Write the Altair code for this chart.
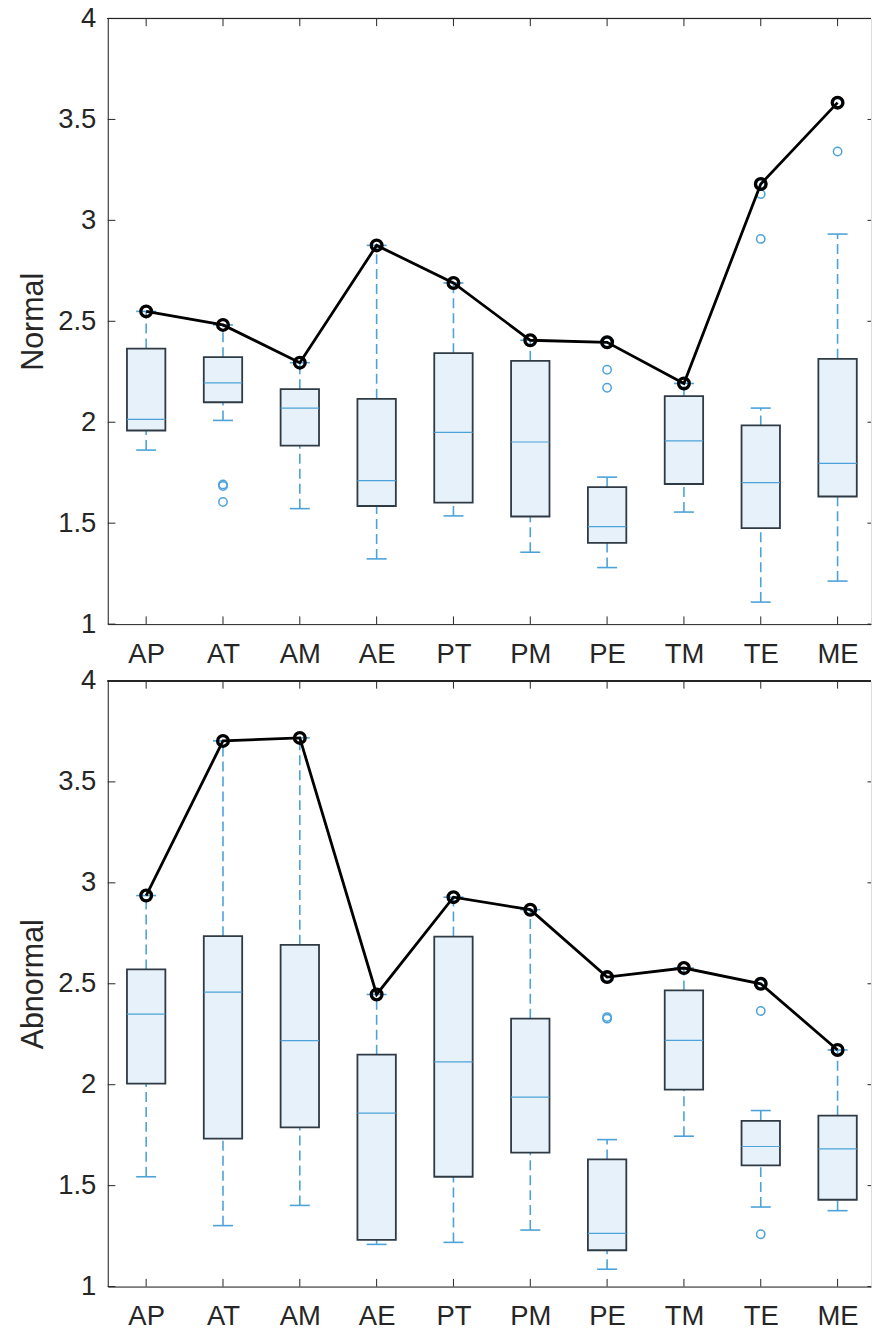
import altair as alt
import pandas as pd

categories = ["AP", "AT", "AM", "AE", "PT", "PM", "PE", "TM", "TE", "ME"]

# Normal group: box statistics, whisker ends, maxima and outliers
normal_q1 = [1.959, 2.099, 1.884, 1.585, 1.602, 1.533, 1.402, 1.694, 1.475, 1.632]
normal_median = [2.014, 2.195, 2.070, 1.711, 1.950, 1.902, 1.483, 1.908, 1.701, 1.796]
normal_q3 = [2.365, 2.322, 2.164, 2.116, 2.342, 2.304, 1.679, 2.129, 1.984, 2.314]
normal_whisker_low = [1.862, 2.009, 1.572, 1.323, 1.536, 1.356, 1.280, 1.555, 1.109, 1.213]
normal_whisker_high = [2.549, 2.482, 2.295, 2.876, 2.690, 2.406, 1.728, 2.192, 2.070, 2.932]
normal_max = [2.549, 2.482, 2.295, 2.876, 2.690, 2.406, 2.396, 2.192, 3.180, 3.583]
normal_outlier_cat = ["AT", "AT", "AT", "PE", "PE", "PE", "TE", "TE", "TE", "ME", "ME"]
normal_outlier_val = [1.692, 1.684, 1.605, 2.260, 2.171, 2.396, 3.130, 2.908, 3.180, 3.341, 3.583]

# Abnormal group
abnormal_q1 = [2.005, 1.733, 1.789, 1.231, 1.544, 1.664, 1.180, 1.976, 1.600, 1.430]
abnormal_median = [2.350, 2.459, 2.218, 1.859, 2.113, 1.938, 1.264, 2.220, 1.694, 1.682]
abnormal_q3 = [2.571, 2.736, 2.693, 2.149, 2.734, 2.327, 1.630, 2.467, 1.821, 1.847]
abnormal_whisker_low = [1.544, 1.302, 1.402, 1.209, 1.219, 1.280, 1.086, 1.745, 1.394, 1.376]
abnormal_whisker_high = [2.937, 3.703, 3.718, 2.447, 2.929, 2.867, 1.728, 2.578, 1.872, 2.172]
abnormal_max = [2.937, 3.703, 3.718, 2.447, 2.929, 2.867, 2.533, 2.578, 2.500, 2.172]
abnormal_outlier_cat = ["PE", "PE", "PE", "TE", "TE", "TE"]
abnormal_outlier_val = [2.335, 2.327, 2.533, 2.365, 2.500, 1.259]

y_ticks = [1, 1.5, 2, 2.5, 3, 3.5, 4]

# Styling
W, H = 765, 607
STEP = 77.0
X_MAX = 0.5 + W / STEP
FONT = "Liberation Sans"
TEXT = "#262626"
BOX_FILL = "#E6F1FA"
BOX_EDGE = "#2E3A44"
BLUE = "#4DA3D9"
TICK_LEN = 7.7

label_expr = "[" + ",".join("'%s'" % c for c in categories) + "][datum.value - 1]"


def x_enc(field):
    return alt.X(
        field,
        type="quantitative",
        scale=alt.Scale(domain=[0.5, X_MAX], nice=False, zero=False),
        axis=alt.Axis(
            values=list(range(1, 11)), labelExpr=label_expr, ticks=False, grid=False,
            domainColor=TEXT, domainWidth=1, labelFont=FONT, labelFontSize=27.5,
            labelColor=TEXT, labelPadding=16, title=None,
        ),
    )


def y_axis(title):
    return alt.Axis(
        values=y_ticks, format="~g", ticks=False, grid=False, domainColor=TEXT,
        domainWidth=1, labelFont=FONT, labelFontSize=27.5, labelColor=TEXT,
        labelPadding=12, title=title, titleFont=FONT, titleFontSize=30.5,
        titleFontWeight="normal", titleColor=TEXT, titleAngle=270,
        titleBaseline="top", titleAlign="center", titleX=-89, titleY=H / 2,
    )


def panel(title, q1, med, q3, lo, hi, mx, ocat, oval, anchor):
    def y_enc(field):
        return alt.Y(field, type="quantitative",
                     scale=alt.Scale(domain=[1, 4], nice=False, zero=False),
                     axis=y_axis(title))

    stats = pd.DataFrame({
        "cat": categories, "pos": list(range(1, len(categories) + 1)),
        "q1": q1, "median": med, "q3": q3, "lo": lo, "hi": hi, "max": mx,
    })
    pos_of = dict(zip(categories, stats["pos"]))
    outliers = pd.DataFrame({"pos": [pos_of[c] for c in ocat], "val": oval})
    xt = pd.DataFrame({"pos": list(range(1, len(categories) + 1))})
    yt = pd.DataFrame({"v": y_ticks})

    base = alt.Chart(stats).transform_calculate(
        x0="datum.pos - 0.25", x1="datum.pos + 0.25",
        c0="datum.pos - 0.13", c1="datum.pos + 0.13",
    )

    whisker_lo = base.mark_rule(color=BLUE, strokeWidth=1.6, strokeDash=[10, 5]).encode(
        x=x_enc("pos"), y=y_enc("lo"), y2="q1")
    whisker_hi = base.mark_rule(color=BLUE, strokeWidth=1.6, strokeDash=[10, 5]).encode(
        x=x_enc("pos"), y=y_enc("q3"), y2="hi")
    cap_lo = base.mark_rule(color=BLUE, strokeWidth=1.6).encode(
        x=x_enc("c0"), x2="c1", y=y_enc("lo"))
    cap_hi = base.mark_rule(color=BLUE, strokeWidth=1.6).encode(
        x=x_enc("c0"), x2="c1", y=y_enc("hi"))
    boxes = base.mark_rect(fill=BOX_FILL, stroke=BOX_EDGE, strokeWidth=1.8).encode(
        x=x_enc("x0"), x2="x1", y=y_enc("q1"), y2="q3")
    medians = base.mark_rule(color=BLUE, strokeWidth=1.2).encode(
        x=x_enc("x0"), x2="x1", y=y_enc("median"))
    outlier_pts = alt.Chart(outliers).mark_point(
        shape="circle", filled=False, stroke=BLUE, strokeWidth=1.5, size=70, opacity=1
    ).encode(x=x_enc("pos"), y=y_enc("val"))
    max_line = base.mark_line(color="black", strokeWidth=2.8).encode(
        x=x_enc("pos"), y=y_enc("max"))
    max_pts = base.mark_point(
        shape="circle", filled=False, stroke="black", strokeWidth=3.3, size=115, opacity=1
    ).encode(x=x_enc("pos"), y=y_enc("max"))

    tick_style = dict(color=TEXT, strokeWidth=1)
    ticks_top = alt.Chart(xt).mark_rule(**tick_style).encode(
        x=x_enc("pos"), y=alt.value(0), y2=alt.value(TICK_LEN))
    ticks_bottom = alt.Chart(xt).mark_rule(**tick_style).encode(
        x=x_enc("pos"), y=alt.value(H), y2=alt.value(H - TICK_LEN))
    ticks_left = alt.Chart(yt).mark_rule(**tick_style).encode(
        y=y_enc("v"), x=alt.value(0), x2=alt.value(TICK_LEN))
    ticks_right = alt.Chart(yt).mark_rule(**tick_style).encode(
        y=y_enc("v"), x=alt.value(W - 3.5), x2=alt.value(W))
    top_border = alt.Chart(xt).mark_rule(**tick_style).encode(
        x=alt.value(0), x2=alt.value(W), y=alt.value(0))

    layers = [whisker_lo, whisker_hi, cap_lo, cap_hi, boxes, medians, outlier_pts,
              ticks_top, ticks_bottom, ticks_left, ticks_right, top_border,
              max_line, max_pts]
    if anchor:
        # invisible rule that fixes the page offset of the plot area
        layers.append(alt.Chart(xt).mark_rule(strokeOpacity=0, strokeWidth=0).encode(
            x=alt.value(-107), x2=alt.value(0), y=alt.value(-16)))
    return alt.layer(*layers).properties(width=W, height=H)


top = panel("Normal", normal_q1, normal_median, normal_q3, normal_whisker_low,
            normal_whisker_high, normal_max, normal_outlier_cat, normal_outlier_val, True)
bottom = panel("Abnormal", abnormal_q1, abnormal_median, abnormal_q3, abnormal_whisker_low,
               abnormal_whisker_high, abnormal_max, abnormal_outlier_cat,
               abnormal_outlier_val, False)

chart = alt.vconcat(top, bottom, spacing=57, bounds="flush").properties(
    padding=0, background="white"
).configure_view(stroke=None).configure(font=FONT)

chart.save("out.html", embed_options={"renderer": "svg", "actions": False})
